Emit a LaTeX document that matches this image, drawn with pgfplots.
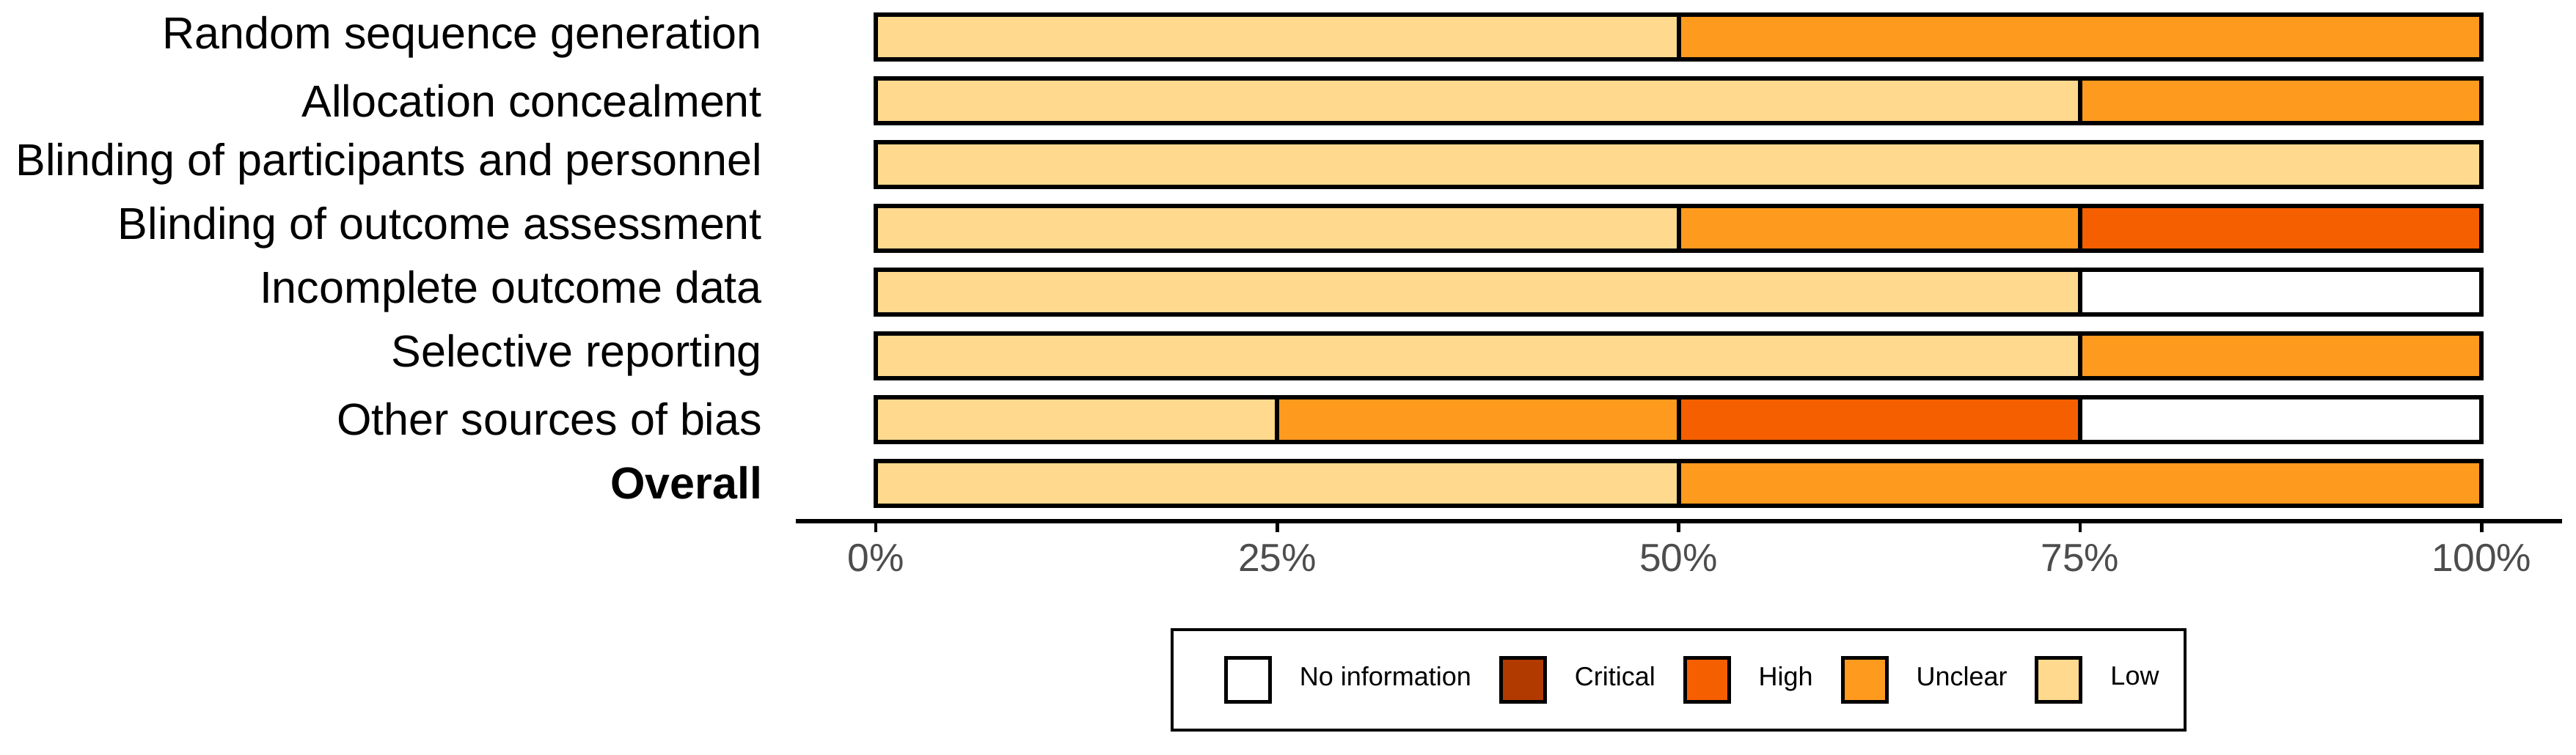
\documentclass[border=0pt]{standalone}
\usepackage{pgfplots}
\pgfplotsset{compat=1.18}
\usepackage{fontspec}
\setmainfont{Liberation Sans}
\definecolor{cLow}{HTML}{FED98E}
\definecolor{cUnclear}{HTML}{FE9A1E}
\definecolor{cHigh}{HTML}{F55F00}
\definecolor{cCritical}{HTML}{B03A00}
\definecolor{cNoInfo}{HTML}{FFFFFF}
\definecolor{gray30}{HTML}{4D4D4D}
\begin{document}
\begin{tikzpicture}
\path[use as bounding box] (-162.7pt,-47.8pt) rectangle (364.1pt,106.7pt);
\begin{axis}[
  at={(0,0)}, anchor=south west,
  scale only axis,
  width=361.2pt, height=107pt,
  xbar stacked,
  bar width=0.7,
  xmin=-5, xmax=105,
  ymin=-0.6, ymax=7.6,
  y dir=reverse,
  axis x line*=bottom,
  axis y line*=left,
  y axis line style={draw=none},
  x axis line style={black, line width=0.9pt, -},
  ytick={0,1,2,3,4,5,6,7},
  yticklabels={Random sequence generation, Allocation concealment, Blinding of participants and personnel, Blinding of outcome assessment, Incomplete outcome data, Selective reporting, Other sources of bias, \textbf{Overall}},
  ytick style={draw=none},
  xtick={0,25,50,75,100},
  xticklabels={0\%,25\%,50\%,75\%,100\%},
  xtick style={black, line width=0.7pt},
  tick align=outside,
  major tick length=2.25pt,
  /pgf/number format/assume math mode=true,
  yticklabel style={font=\fontsize{9.15}{10}\selectfont, anchor=east, inner sep=0pt, xshift=-4.4pt, text=black},
  xticklabel style={font=\fontsize{8}{9}\selectfont, anchor=north, inner sep=0pt, yshift=-2.2pt, text=gray30},
  every axis plot/.append style={draw=black, line width=0.9pt},
  legend columns=5,
  reverse legend,
  legend style={at={(0.5,-0.303)}, anchor=center, draw=black, line width=0.6pt,
    inner xsep=5.3pt, inner ysep=5.4pt,
    font=\fontsize{5.4}{6}\selectfont,
    nodes={inner sep=0pt, anchor=west},
    /tikz/every odd column/.append style={column sep=5.7pt},
    /tikz/every even column/.append style={column sep=0.4pt}},
  legend image code/.code={\path (-5.2pt,0pt); \draw[#1, line width=0.75pt] (0pt,-4.5pt) rectangle (9pt,4.5pt);},
]
\addplot[fill=cLow] coordinates {(50,0) (75,1) (100,2) (50,3) (75,4) (75,5) (25,6) (50,7)};
\addlegendentry{Low}
\addplot[fill=cUnclear] coordinates {(50,0) (25,1) (0,2) (25,3) (0,4) (25,5) (25,6) (50,7)};
\addlegendentry{Unclear}
\addplot[fill=cHigh] coordinates {(0,0) (0,1) (0,2) (25,3) (0,4) (0,5) (25,6) (0,7)};
\addlegendentry{High}
\addplot[fill=cCritical] coordinates {(0,0) (0,1) (0,2) (0,3) (0,4) (0,5) (0,6) (0,7)};
\addlegendentry{Critical}
\addplot[fill=cNoInfo] coordinates {(0,0) (0,1) (0,2) (0,3) (25,4) (0,5) (25,6) (0,7)};
\addlegendentry{No information}
\end{axis}
\end{tikzpicture}
\end{document}
